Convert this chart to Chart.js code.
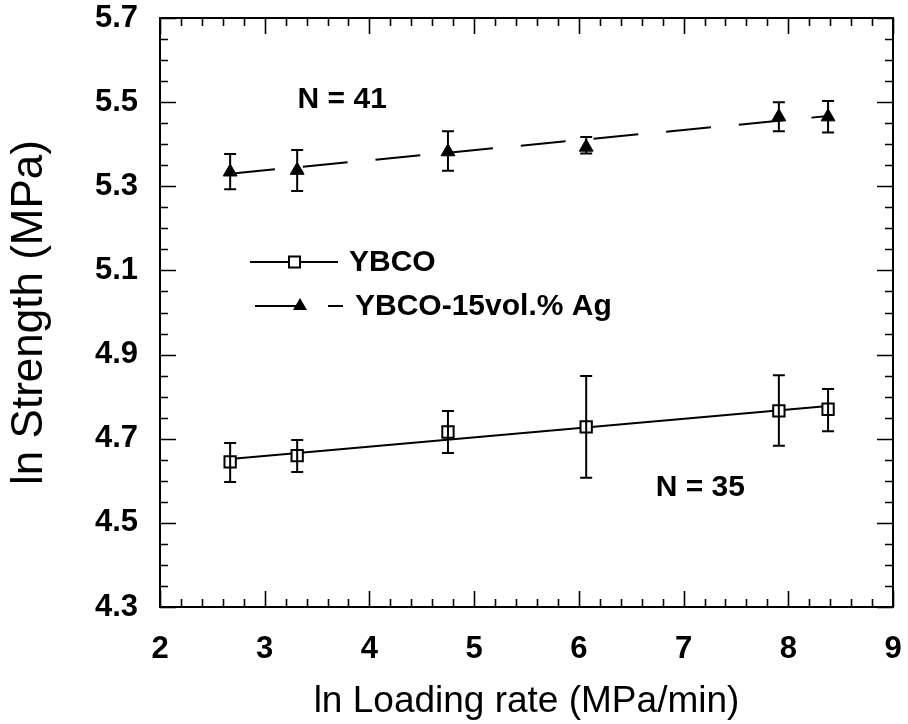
<!DOCTYPE html>
<html><head><meta charset="utf-8">
<script src="https://cdn.jsdelivr.net/npm/chart.js@4/dist/chart.umd.min.js"></script>
<style>html,body{margin:0;padding:0;background:#fff;} #wrap{width:908px;height:724px;position:relative;}</style>
</head><body><div id="wrap"><canvas id="c" width="908" height="724"></canvas></div>
<script>
// ---- data ----
const loadingRate   = [2.67, 3.31, 4.75, 6.07, 7.91, 8.38];
const ybcoStrength  = [4.645, 4.660, 4.716, 4.728, 4.766, 4.770];
const ybcoErrLow    = [4.597, 4.621, 4.666, 4.607, 4.683, 4.718];
const ybcoErrHigh   = [4.690, 4.697, 4.766, 4.849, 4.851, 4.818];
const agStrength    = [5.334, 5.338, 5.382, 5.393, 5.465, 5.465];
const agErrLow      = [5.293, 5.289, 5.337, 5.378, 5.431, 5.428];
const agErrHigh     = [5.377, 5.386, 5.431, 5.417, 5.500, 5.503];
const fitX          = [2.67, 8.38];
const ybcoFit       = [4.652, 4.778];
const agFit         = [5.330, 5.467];
const xTicks        = [2, 3, 4, 5, 6, 7, 8, 9];
const yTicks        = [4.3, 4.5, 4.7, 4.9, 5.1, 5.3, 5.5, 5.7];
const seriesNames   = ['YBCO', 'YBCO-15vol.% Ag'];
const nLabels       = [{text: 'N = 41', x: 3.74, y: 5.505}, {text: 'N = 35', x: 7.16, y: 4.583}];
const xTitle = 'ln Loading rate (MPa/min)';
const yTitle = 'ln Strength (MPa)';

const FONT = '"Liberation Sans", Arial, Helvetica, sans-serif';
const pts = (xs, ys) => xs.map((x, i) => ({x, y: ys[i]}));

const errorBars = {
  id: 'errorBars',
  afterDatasetsDraw(chart) {
    const {ctx, scales: {x, y}} = chart;
    const sets = [[ybcoErrLow, ybcoErrHigh], [agErrLow, agErrHigh]];
    ctx.save();
    ctx.strokeStyle = '#000';
    ctx.lineWidth = 2;
    sets.forEach(([lo, hi]) => {
      loadingRate.forEach((v, i) => {
        const px = x.getPixelForValue(v);
        const y1 = y.getPixelForValue(lo[i]);
        const y2 = y.getPixelForValue(hi[i]);
        ctx.beginPath();
        ctx.moveTo(px, y1); ctx.lineTo(px, y2);
        ctx.moveTo(px - 6, y1); ctx.lineTo(px + 6, y1);
        ctx.moveTo(px - 6, y2); ctx.lineTo(px + 6, y2);
        ctx.stroke();
      });
    });
    ctx.restore();
  }
};

const frameTicks = {
  id: 'frameTicks',
  afterDraw(chart) {
    const {ctx, chartArea: a, scales: {x, y}} = chart;
    ctx.save();
    ctx.strokeStyle = '#000';
    ctx.lineWidth = 2;
    ctx.strokeRect(a.left, a.top, a.right - a.left, a.bottom - a.top);
    ctx.lineWidth = 1.6;
    ctx.beginPath();
    for (let k = 0; k <= 35; k++) {
      const v = x.min + k * 0.2;
      const px = Math.round(x.getPixelForValue(v)) + 0.5;
      const len = (k % 5 === 0) ? 16 : 8;
      ctx.moveTo(px, a.bottom); ctx.lineTo(px, a.bottom - len);
      ctx.moveTo(px, a.top); ctx.lineTo(px, a.top + len);
    }
    for (let k = 0; k <= 28; k++) {
      const v = y.min + k * 0.05;
      const py = Math.round(y.getPixelForValue(v)) + 0.5;
      const len = (k % 4 === 0) ? 16 : 8;
      ctx.moveTo(a.left, py); ctx.lineTo(a.left + len, py);
      ctx.moveTo(a.right, py); ctx.lineTo(a.right - len, py);
    }
    ctx.stroke();

    // annotations
    ctx.fillStyle = '#000';
    ctx.font = 'bold 30px ' + FONT;
    ctx.textAlign = 'center';
    ctx.textBaseline = 'middle';
    nLabels.forEach(l => ctx.fillText(l.text, x.getPixelForValue(l.x), y.getPixelForValue(l.y)));

    // legend
    const lx = a.left + 90;
    const r1 = 262, r2 = 306;
    ctx.lineWidth = 2;
    ctx.beginPath(); ctx.moveTo(lx, r1); ctx.lineTo(lx + 88, r1); ctx.stroke();
    ctx.fillStyle = '#fff';
    ctx.fillRect(lx + 39, r1 - 5.5, 11, 11);
    ctx.strokeRect(lx + 39, r1 - 5.5, 11, 11);
    ctx.fillStyle = '#000';
    ctx.textAlign = 'left';
    ctx.fillText(seriesNames[0], lx + 99, r1 + 1);

    ctx.setLineDash([45, 28]);
    ctx.beginPath(); ctx.moveTo(lx + 5, r2); ctx.lineTo(lx + 93, r2); ctx.stroke();
    ctx.setLineDash([]);
    ctx.beginPath();
    ctx.moveTo(lx + 50, r2 - 8); ctx.lineTo(lx + 57, r2 + 4); ctx.lineTo(lx + 43, r2 + 4); ctx.closePath();
    ctx.fill();
    ctx.fillText(seriesNames[1], lx + 105, r2 + 1);
    ctx.restore();
  }
};

new Chart(document.getElementById('c'), {
  type: 'scatter',
  data: {
    datasets: [
      {label: seriesNames[0], data: pts(loadingRate, ybcoStrength), pointStyle: 'rect', pointRadius: 8,
       pointBorderWidth: 2, borderColor: '#000', backgroundColor: '#fff', showLine: false},
      {label: seriesNames[1], data: pts(loadingRate, agStrength), pointStyle: 'triangle', pointRadius: 8,
       pointBorderWidth: 1, borderColor: '#000', backgroundColor: '#000', showLine: false},
      {label: 'YBCO fit', data: pts(fitX, ybcoFit), showLine: true, pointRadius: 0, borderColor: '#000', borderWidth: 2},
      {label: 'Ag fit', data: pts(fitX, agFit), showLine: true, pointRadius: 0, borderColor: '#000', borderWidth: 2, borderDash: [45, 28]}
    ]
  },
  options: {
    responsive: false,
    animation: false,
    devicePixelRatio: 1,
    layout: {padding: {top: 18, right: 15, left: 0, bottom: 0}},
    plugins: {legend: {display: false}, tooltip: {enabled: false}},
    scales: {
      x: {
        type: 'linear', min: 2, max: 9,
        afterFit: s => { s.height = 117; s.paddingLeft = 0; s.paddingRight = 0; },
        afterBuildTicks: s => { s.ticks = xTicks.map(v => ({value: v})); },
        grid: {display: false, drawTicks: false},
        border: {display: false},
        ticks: {color: '#000', padding: 24, font: {family: FONT, size: 31, weight: 'bold'}, callback: v => String(v)},
        title: {display: true, text: xTitle, color: '#000', padding: {top: 0, bottom: 0},
                font: {family: FONT, size: 37, lineHeight: 1.2}}
      },
      y: {
        type: 'linear', min: 4.3, max: 5.7,
        afterFit: s => { s.width = 160; s.paddingTop = 0; s.paddingBottom = 0; },
        afterBuildTicks: s => { s.ticks = yTicks.map(v => ({value: v})); },
        grid: {display: false, drawTicks: false},
        border: {display: false},
        ticks: {color: '#000', padding: 22, font: {family: FONT, size: 31, weight: 'bold'}, callback: v => Number(v).toFixed(1)},
        title: {display: true, text: yTitle, color: '#000', padding: {top: 8, bottom: 0},
                font: {family: FONT, size: 44, lineHeight: 1.0}}
      }
    }
  },
  plugins: [errorBars, frameTicks]
});
</script></body></html>
